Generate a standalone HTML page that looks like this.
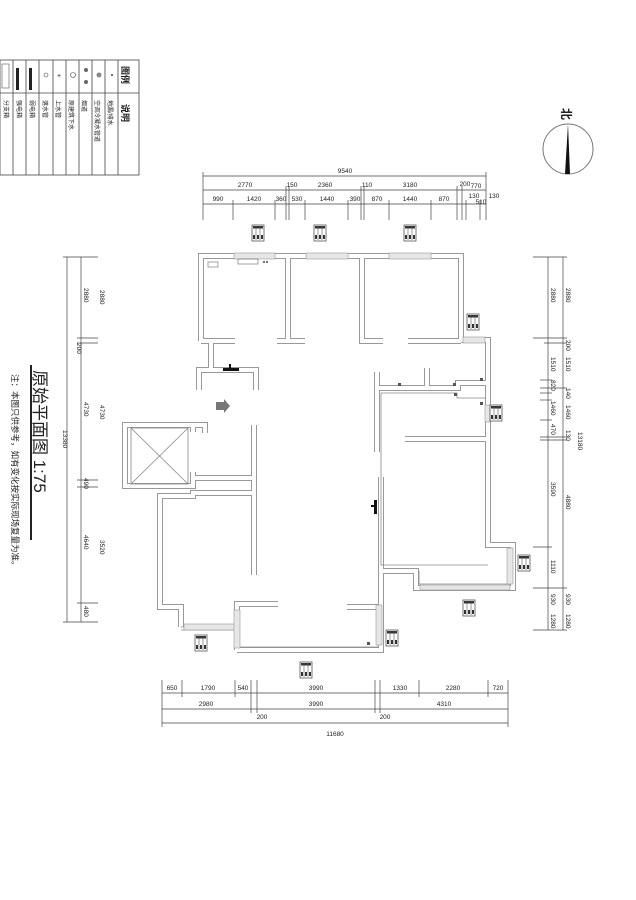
<!DOCTYPE html>
<html><head><meta charset="utf-8"><style>
html,body{margin:0;padding:0;background:#fff;}
svg{display:block;}
text{font-family:"Liberation Sans","Noto Sans CJK SC",sans-serif;fill:#222;}
</style></head><body>
<svg width="636" height="900" viewBox="0 0 636 900" xmlns="http://www.w3.org/2000/svg">
<defs>
<g id="sw"><rect x="0" y="0" width="12" height="16" fill="#fff" stroke="#555" stroke-width="0.8"/><rect x="1" y="1" width="10" height="2.5" fill="#333"/><line x1="4" y1="1" x2="4" y2="15" stroke="#555" stroke-width="0.6"/><line x1="8" y1="1" x2="8" y2="15" stroke="#555" stroke-width="0.6"/><rect x="1" y="10" width="2" height="4" fill="#333"/><rect x="5" y="10" width="2" height="4" fill="#333"/><rect x="9" y="10" width="2" height="4" fill="#333"/></g>
</defs>

<!-- legend -->
<g stroke="#444" stroke-width="0.8" fill="none">
<rect x="0" y="60" width="139" height="115"/>
<line x1="0" y1="93" x2="139" y2="93"/>
<line x1="13" y1="60" x2="13" y2="175"/><line x1="26" y1="60" x2="26" y2="175"/><line x1="39" y1="60" x2="39" y2="175"/>
<line x1="53" y1="60" x2="53" y2="175"/><line x1="66" y1="60" x2="66" y2="175"/><line x1="79" y1="60" x2="79" y2="175"/>
<line x1="92" y1="60" x2="92" y2="175"/><line x1="105" y1="60" x2="105" y2="175"/><line x1="118" y1="60" x2="118" y2="175"/>
</g>
<rect x="2" y="64" width="7" height="24" fill="none" stroke="#555" stroke-width="0.6"/>
<rect x="16" y="68" width="3" height="22" fill="#222"/><rect x="29" y="68" width="3" height="22" fill="#222"/>
<circle cx="46" cy="75" r="2" fill="none" stroke="#444" stroke-width="0.6"/>
<text x="57" y="78" font-size="7">+</text>
<circle cx="73" cy="75" r="2.5" fill="none" stroke="#444" stroke-width="0.6"/>
<circle cx="86" cy="70" r="2" fill="#666"/><circle cx="86" cy="82" r="2" fill="#666"/>
<circle cx="99" cy="75" r="2.5" fill="#888"/>
<circle cx="112" cy="75" r="1" fill="#444"/>
<g font-size="6" fill="#333">
<text transform="translate(4,100) rotate(90)">分支箱</text>
<text transform="translate(17,100) rotate(90)">强电箱</text>
<text transform="translate(30,100) rotate(90)">弱电箱</text>
<text transform="translate(43,100) rotate(90)">落水管</text>
<text transform="translate(56,100) rotate(90)">上水管</text>
<text transform="translate(69,100) rotate(90)">原建筑下水</text>
<text transform="translate(82,100) rotate(90)">烟道</text>
<text transform="translate(95,100) rotate(90)">空调冷凝水管道</text>
<text transform="translate(108,100) rotate(90)">地漏/排水</text>
<text transform="translate(122,66) rotate(90)" font-size="9" font-weight="bold">图例</text>
<text transform="translate(122,104) rotate(90)" font-size="9" font-weight="bold">说明</text>
</g>

<!-- north arrow -->
<circle cx="568" cy="149" r="25" fill="none" stroke="#777" stroke-width="1"/>
<polygon points="568,124 565,174 570,174" fill="#111"/>
<text transform="translate(562,108) rotate(90)" font-size="12" font-weight="bold">北</text>

<!-- title -->
<line x1="31" y1="365" x2="31" y2="540" stroke="#222" stroke-width="2"/>
<text transform="translate(34,370) rotate(90)" font-size="17">原始平面图 1:75</text>
<text transform="translate(12,374) rotate(90)" font-size="8.5" fill="#444">注：本图只供参考，如有变化按实际现场复量为准。</text>

<!-- dimensions -->
<g stroke="#444" stroke-width="0.7" fill="none">
<line x1="203" y1="176" x2="486" y2="176"/>
<line x1="203" y1="190" x2="486" y2="190"/>
<line x1="203" y1="204" x2="486" y2="204"/>
<line x1="203" y1="172" x2="203" y2="220"/><line x1="486" y1="172" x2="486" y2="220"/>
<line x1="286" y1="186" x2="286" y2="220"/><line x1="289" y1="186" x2="289" y2="220"/>
<line x1="361" y1="186" x2="361" y2="220"/><line x1="364" y1="186" x2="364" y2="220"/>
<line x1="457" y1="186" x2="457" y2="220"/><line x1="462" y1="186" x2="462" y2="220"/>
<line x1="233" y1="200" x2="233" y2="220"/><line x1="275" y1="200" x2="275" y2="220"/>
<line x1="305" y1="200" x2="305" y2="220"/><line x1="348" y1="200" x2="348" y2="220"/>
<line x1="389" y1="200" x2="389" y2="220"/><line x1="431" y1="200" x2="431" y2="220"/>
<line x1="466" y1="200" x2="466" y2="220"/><line x1="480" y1="200" x2="480" y2="220"/>
<line x1="162" y1="693" x2="508" y2="693"/>
<line x1="162" y1="709" x2="508" y2="709"/>
<line x1="162" y1="723" x2="508" y2="723"/>
<line x1="162" y1="680" x2="162" y2="727"/><line x1="508" y1="680" x2="508" y2="727"/>
<line x1="182" y1="680" x2="182" y2="697"/><line x1="235" y1="680" x2="235" y2="697"/>
<line x1="251" y1="680" x2="251" y2="713"/><line x1="257" y1="680" x2="257" y2="713"/>
<line x1="375" y1="680" x2="375" y2="713"/><line x1="380" y1="680" x2="380" y2="713"/>
<line x1="419" y1="680" x2="419" y2="697"/><line x1="488" y1="680" x2="488" y2="697"/>
<line x1="67" y1="257" x2="67" y2="622"/>
<line x1="81" y1="257" x2="81" y2="622"/>
<line x1="63" y1="257" x2="98" y2="257"/><line x1="63" y1="622" x2="98" y2="622"/>
<line x1="77" y1="338" x2="98" y2="338"/><line x1="77" y1="343" x2="98" y2="343"/>
<line x1="77" y1="480" x2="98" y2="480"/><line x1="77" y1="487" x2="98" y2="487"/>
<line x1="77" y1="603" x2="98" y2="603"/>
<line x1="548" y1="257" x2="548" y2="630"/>
<line x1="563" y1="257" x2="563" y2="630"/>
<line x1="533" y1="257" x2="567" y2="257"/><line x1="533" y1="630" x2="567" y2="630"/>
<line x1="533" y1="338" x2="567" y2="338"/><line x1="544" y1="343" x2="567" y2="343"/>
<line x1="540" y1="380" x2="552" y2="380"/><line x1="540" y1="388" x2="567" y2="388"/>
<line x1="540" y1="393" x2="552" y2="393"/><line x1="540" y1="400" x2="552" y2="400"/>
<line x1="540" y1="420" x2="552" y2="420"/><line x1="540" y1="437" x2="567" y2="437"/>
<line x1="540" y1="440" x2="567" y2="440"/>
<line x1="533" y1="547" x2="552" y2="547"/><line x1="533" y1="588" x2="567" y2="588"/>
</g>
<g font-size="6.5" text-anchor="middle">
<text x="345" y="173">9540</text>
<text x="245" y="187">2770</text><text x="292" y="187">150</text><text x="325" y="187">2360</text>
<text x="367" y="187">110</text><text x="410" y="187">3180</text><text x="465" y="186">200</text><text x="476" y="188">770</text>
<text x="218" y="201">990</text><text x="254" y="201">1420</text><text x="281" y="201">360</text>
<text x="297" y="201">530</text><text x="327" y="201">1440</text><text x="355" y="201">390</text>
<text x="377" y="201">870</text><text x="410" y="201">1440</text><text x="444" y="201">870</text>
<text x="474" y="198">130</text><text x="481" y="204">510</text><text x="494" y="198">130</text>
<text x="172" y="690">650</text><text x="208" y="690">1790</text><text x="243" y="690">540</text>
<text x="316" y="690">3990</text><text x="400" y="690">1330</text><text x="453" y="690">2280</text><text x="498" y="690">720</text>
<text x="206" y="706">2980</text><text x="316" y="706">3990</text><text x="444" y="706">4310</text>
<text x="262" y="719">200</text><text x="385" y="719">200</text>
<text x="335" y="736">11680</text>
</g>
<g font-size="6.5">
<text transform="translate(63,430) rotate(90)">13380</text>
<text transform="translate(84,288) rotate(90)">2880</text>
<text transform="translate(77,343) rotate(90)">200</text>
<text transform="translate(84,402) rotate(90)">4730</text>
<text transform="translate(84,478) rotate(90)">490</text>
<text transform="translate(84,535) rotate(90)">4640</text>
<text transform="translate(84,606) rotate(90)">480</text>
<text transform="translate(100,290) rotate(90)">2880</text>
<text transform="translate(100,405) rotate(90)">4730</text>
<text transform="translate(100,540) rotate(90)">3520</text>
<text transform="translate(551,288) rotate(90)">2880</text>
<text transform="translate(551,357) rotate(90)">1510</text>
<text transform="translate(551,380) rotate(90)">820</text>
<text transform="translate(551,401) rotate(90)">1460</text>
<text transform="translate(551,424) rotate(90)">470</text>
<text transform="translate(551,482) rotate(90)">3590</text>
<text transform="translate(551,560) rotate(90)">1110</text>
<text transform="translate(551,594) rotate(90)">930</text>
<text transform="translate(551,614) rotate(90)">1280</text>
<text transform="translate(566,288) rotate(90)">2880</text>
<text transform="translate(566,340) rotate(90)">200</text>
<text transform="translate(566,357) rotate(90)">1510</text>
<text transform="translate(566,388) rotate(90)">140</text>
<text transform="translate(566,405) rotate(90)">1460</text>
<text transform="translate(566,430) rotate(90)">130</text>
<text transform="translate(566,495) rotate(90)">4880</text>
<text transform="translate(566,594) rotate(90)">930</text>
<text transform="translate(566,614) rotate(90)">1280</text>
<text transform="translate(578,432) rotate(90)">13180</text>
</g>

<!-- walls -->
<g fill="none" stroke-linejoin="miter">
<g stroke="#999" stroke-width="6">
<path d="M201,341 L201,256 L461,256 L461,340 L488,340 L488,545 L513,545 L513,588 L416,588 L416,571 L381,571"/>
<path d="M201,341 L235,341 M277,341 L305,341 M288,256 L288,341"/>
<path d="M362,256 L362,341 L383,341 M408,341 L461,341"/>
<path d="M211,341 L211,370 M199,390 L199,370 L256,370 L256,390"/>
<path d="M193,472 L193,486 L125,486 L125,425 L205,425 L205,433 M193,425 L193,432"/>
<path d="M193,478 L253,478 M254,425 L254,575"/>
<path d="M253,493 L193,493 L193,496 L160,496 L160,607 L181,607 L181,627"/>
<path d="M237,650 L237,604 L278,604 M237,650 L381,650 L381,477 M347,607 L380,607"/>
<path d="M377,372 L377,452 M379,388 L427,388 L427,368 M427,388 L458,388 L458,383 L486,383"/>
<path d="M405,439 L488,439"/>
</g>
<g stroke="#fff" stroke-width="4">
<path d="M201,341 L201,256 L461,256 L461,340 L488,340 L488,545 L513,545 L513,588 L416,588 L416,571 L381,571"/>
<path d="M201,341 L235,341 M277,341 L305,341 M288,256 L288,341"/>
<path d="M362,256 L362,341 L383,341 M408,341 L461,341"/>
<path d="M211,341 L211,370 M199,390 L199,370 L256,370 L256,390"/>
<path d="M193,472 L193,486 L125,486 L125,425 L205,425 L205,433 M193,425 L193,432"/>
<path d="M193,478 L253,478 M254,425 L254,575"/>
<path d="M253,493 L193,493 L193,496 L160,496 L160,607 L181,607 L181,627"/>
<path d="M237,650 L237,604 L278,604 M237,650 L381,650 L381,477 M347,607 L380,607"/>
<path d="M377,372 L377,452 M379,388 L427,388 L427,368 M427,388 L458,388 L458,383 L486,383"/>
<path d="M405,439 L488,439"/>
</g>
</g>
<g stroke="#888" stroke-width="0.8" fill="none">
<path d="M381,393 L457,393 L457,398 L486,398"/>
<path d="M381,393 L381,565 L488,565"/>
<path d="M419,571 L419,584 L510,584 L510,548"/>
<path d="M181,627 L237,627 M181,630 L237,630"/>
<path d="M240,647 L378,647"/>
<rect x="131" y="428" width="57" height="56"/>
<line x1="131" y1="428" x2="188" y2="484"/><line x1="188" y1="428" x2="131" y2="484"/>
</g>
<g fill="#e6e6e6" stroke="#999" stroke-width="0.6">
<rect x="234" y="253" width="41" height="6"/>
<rect x="306" y="253" width="42" height="6"/>
<rect x="389" y="253" width="42" height="6"/>
<rect x="463" y="337" width="22" height="6"/>
<rect x="485" y="405" width="5" height="17"/>
<rect x="184" y="624" width="52" height="6"/>
<rect x="234" y="610" width="6" height="38"/>
<rect x="376" y="605" width="6" height="40"/>
<rect x="507" y="548" width="6" height="36"/>
<rect x="420" y="585" width="90" height="5"/>
</g>
<rect x="208" y="262" width="10" height="5" fill="none" stroke="#666" stroke-width="0.6"/>
<rect x="238" y="259" width="20" height="5" fill="none" stroke="#666" stroke-width="0.6"/>
<circle cx="264" cy="262" r="1" fill="#444"/><circle cx="267" cy="262" r="1" fill="#444"/>
<rect x="223" y="368" width="16" height="3" fill="#111"/><rect x="229" y="364" width="2" height="5" fill="#111"/>
<rect x="374" y="500" width="3" height="14" fill="#111"/><rect x="371" y="505" width="4" height="2" fill="#111"/>
<polygon points="216,402 224,402 224,399 230,406 224,413 224,410 216,410" fill="#777"/>
<g fill="#555"><rect x="398" y="383" width="3" height="3"/><rect x="453" y="383" width="3" height="3"/><rect x="480" y="378" width="3" height="3"/><rect x="454" y="393" width="3" height="3"/><rect x="480" y="402" width="3" height="3"/><rect x="367" y="642" width="3" height="3"/></g>
<use href="#sw" x="252" y="225"/>
<use href="#sw" x="314" y="225"/>
<use href="#sw" x="404" y="225"/>
<use href="#sw" x="467" y="314"/>
<use href="#sw" x="490" y="405"/>
<use href="#sw" x="518" y="555"/>
<use href="#sw" x="463" y="600"/>
<use href="#sw" x="386" y="630"/>
<use href="#sw" x="195" y="635"/>
<use href="#sw" x="300" y="662"/>
</svg>
</body></html>
